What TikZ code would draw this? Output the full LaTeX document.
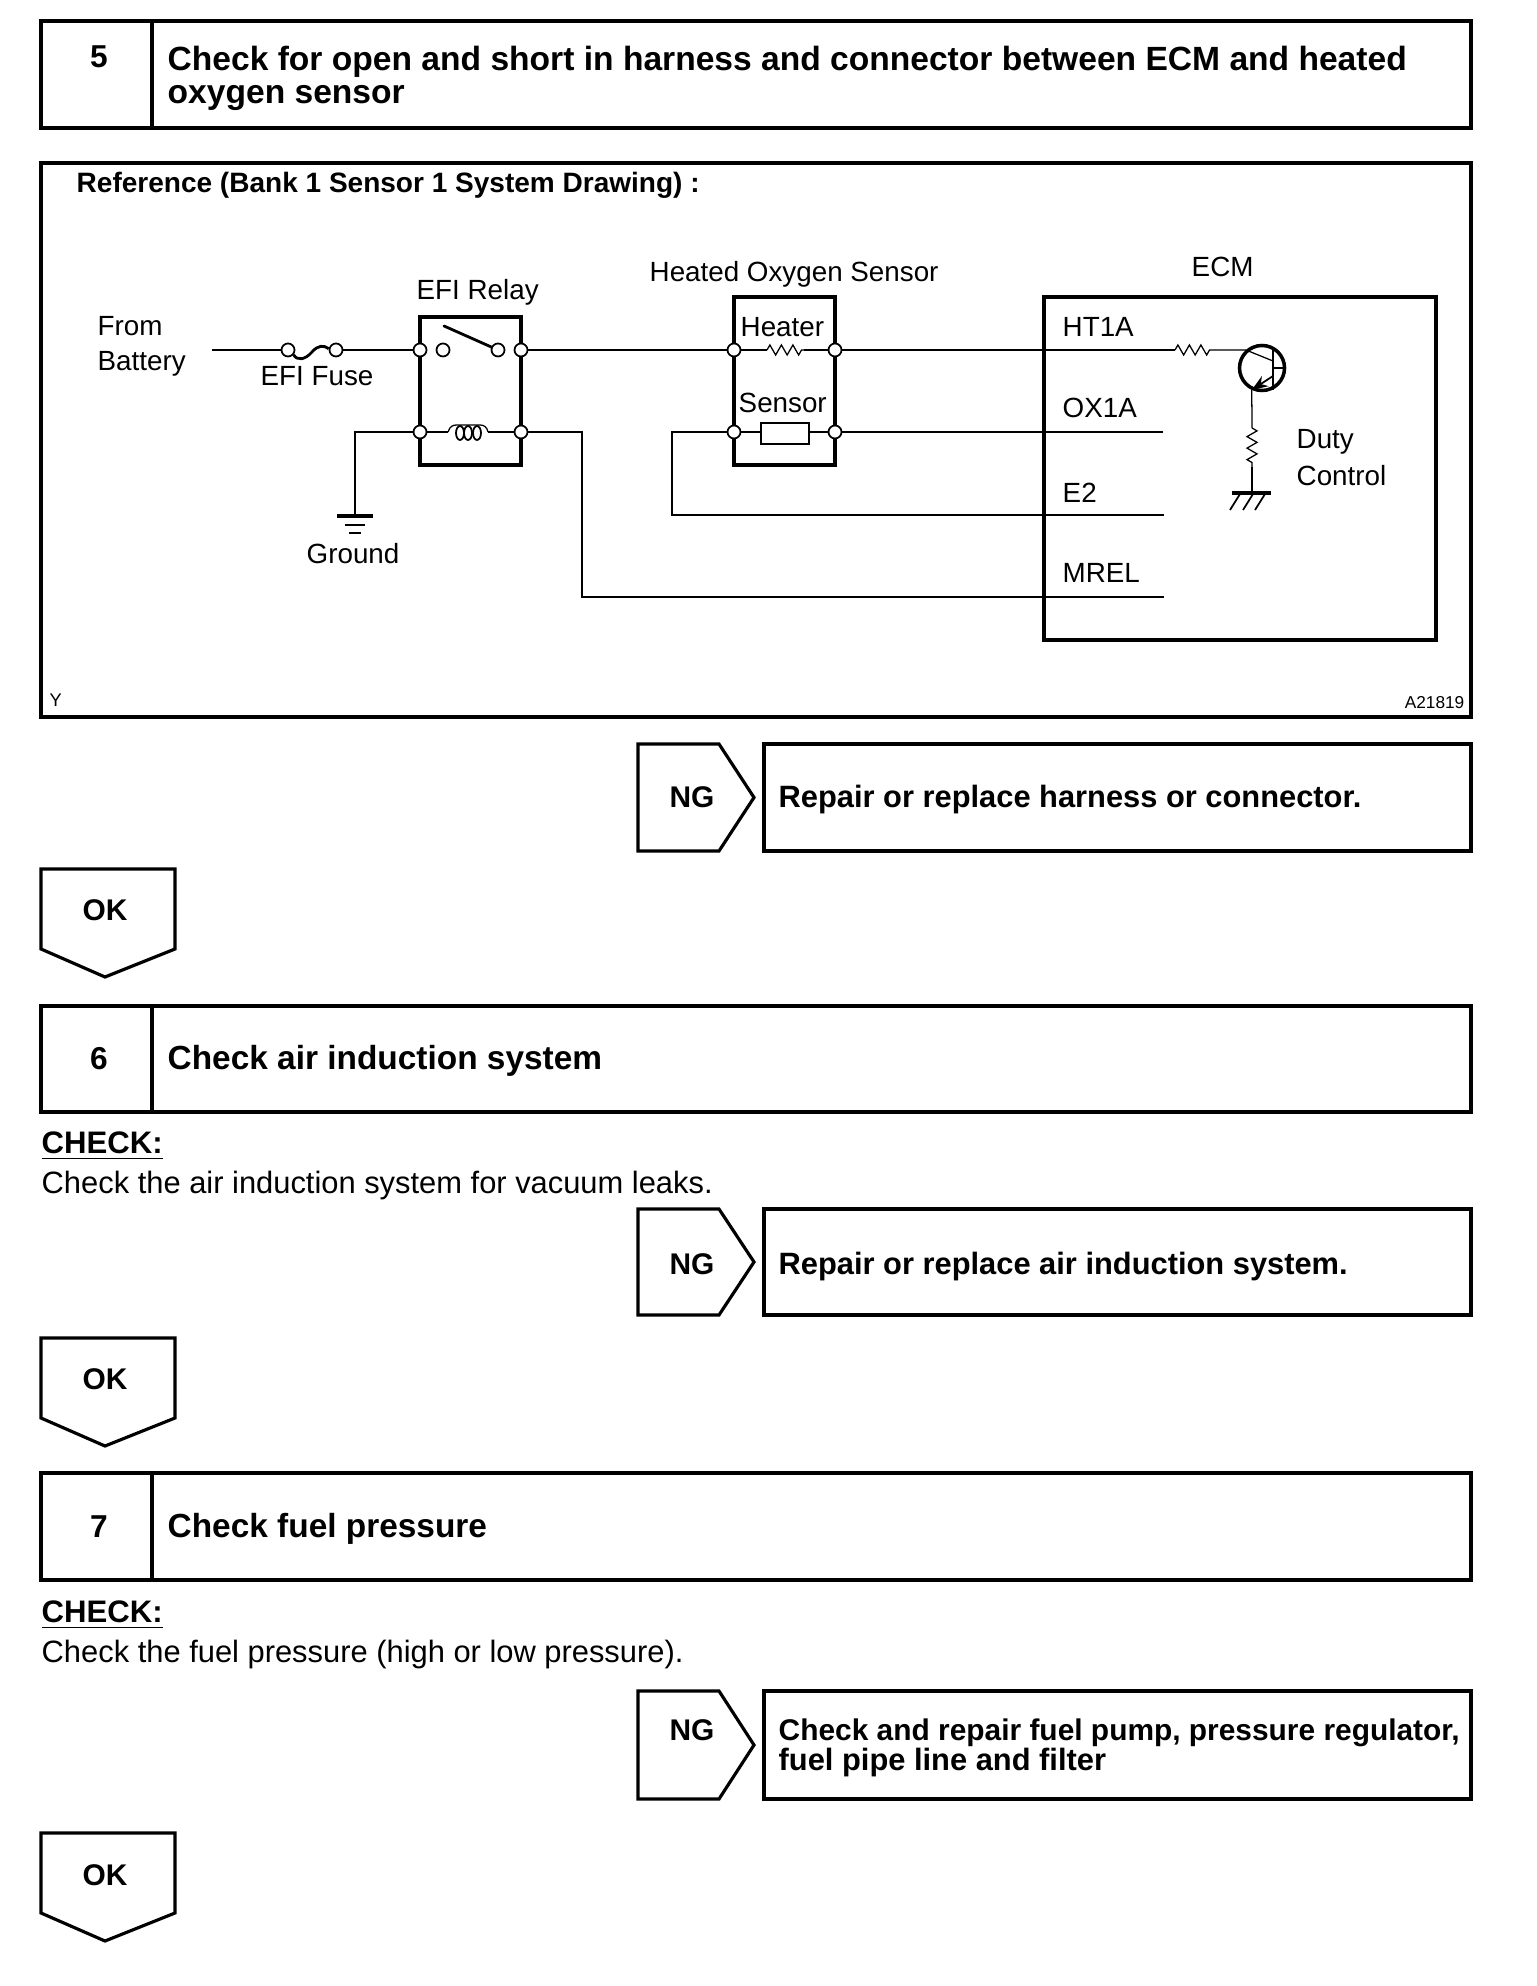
\documentclass[tikz,border=0pt]{standalone}
\usepackage{fontspec}
\setmainfont{Liberation Sans}
\usetikzlibrary{decorations.pathmorphing,arrows.meta}

\tikzset{
    heavy/.style={draw,line width=1.05pt,line join=miter},
    wire/.style={line width=0.36pt},
    term/.style={circle,draw,fill=white,line width=0.5pt,inner sep=0pt,minimum size=0.13cm},
    lbl/.style={inner sep=0pt,font=\fontsize{7.9}{9}\selectfont},
    bld/.style={inner sep=0pt,align=left,font=\fontsize{9.5}{9.4}\selectfont\bfseries},
    fix/.style={inner sep=0pt,align=left,font=\fontsize{8.77}{8.65}\selectfont\bfseries},
    note/.style={inner sep=0pt,font=\fontsize{8.78}{9}\selectfont},
    zig/.style={wire,decorate,decoration={zigzag,amplitude=0.05cm,segment length=0.115cm}},
}

\begin{document}
\begin{tikzpicture}[x=0.01cm,y=-0.01cm]
    \useasboundingbox (0,0) rectangle (1536,1986);
    \pgfmathsetmacro{\xmin}{41}      % bord gauche
    \pgfmathsetmacro{\xmax}{1471}    % bord droit
    \pgfmathsetmacro{\xdiv}{152}     % trait du numero
    \pgfmathsetmacro{\yhi}{350}      % ligne haute du schema
    \pgfmathsetmacro{\ylo}{432}      % ligne basse du schema

    % Bandeaux numerotes
    \foreach \ytop/\ybot in {21/128,1006/1112,1473/1580}{
        \draw[heavy] (\xmin,\ytop) rectangle (\xmax,\ybot);
        \draw[heavy] (\xdiv,\ytop) -- (\xdiv,\ybot);
    }
    \node[bld,font=\fontsize{9}{9.4}\selectfont\bfseries] (numFive) at (99,57) {5};
    \node[bld,anchor=north west,font=\fontsize{9.55}{9.4}\selectfont\bfseries] (headFive) at (167,45) {Check for open and short in harness and connector between ECM and heated\\oxygen sensor};
    \node[bld,font=\fontsize{9}{9.4}\selectfont\bfseries] (numSix) at (99,1059) {6};
    \node[bld,anchor=west] (headSix) at (167,1061) {Check air induction system};
    \node[bld,font=\fontsize{9}{9.4}\selectfont\bfseries] (numSeven) at (99,1527) {7};
    \node[bld,anchor=west] (headSeven) at (167,1529) {Check fuel pressure};

    % Cadre du schema
    \draw[heavy] (\xmin,163) rectangle (\xmax,717);
    \node[bld,anchor=west,font=\fontsize{7.97}{9}\selectfont\bfseries] (refTitle) at (76,185) {Reference (Bank 1 Sensor 1 System Drawing) :};
    \node[lbl,anchor=west,font=\fontsize{5.2}{6}\selectfont] (tagY) at (49,700) {Y};
    \node[lbl,anchor=east,font=\fontsize{4.9}{6}\selectfont] (tagNum) at (1465,703) {A21819};

    % Boitiers
    \draw[heavy] (420,317) rectangle (521,465);
    \draw[heavy] (734,297) rectangle (835,465);
    \draw[heavy] (1044,297) rectangle (1436,640);
    \draw[heavy,line width=0.75pt] (761,423) rectangle (809,444);

    % Bornes
    \coordinate (batt) at (212,\yhi);
    \node[term] (fuseA) at (288,\yhi) {};
    \node[term] (fuseB) at (336,\yhi) {};
    \node[term] (relayA) at (420,\yhi) {};
    \node[term] (relayB) at (443,\yhi) {};
    \node[term] (relayC) at (498,\yhi) {};
    \node[term] (relayD) at (521,\yhi) {};
    \node[term] (relayE) at (420,\ylo) {};
    \node[term] (relayF) at (521,\ylo) {};
    \node[term] (oxA) at (734,\yhi) {};
    \node[term] (oxB) at (835,\yhi) {};
    \node[term] (oxC) at (734,\ylo) {};
    \node[term] (oxD) at (835,\ylo) {};

    % Transistor
    \node[circle,draw,line width=1pt,minimum size=0.45cm,inner sep=0pt] (trans) at (1262,368) {};

    % Fils
    \coordinate (gndTop) at (355,516);
    \coordinate (mrelEnd) at (1164,597);
    \coordinate (e2End) at (1164,515);
    \coordinate (ox1End) at (1163,\ylo);
    \coordinate (heatA) at (767,\yhi);
    \coordinate (heatB) at (804,\yhi);
    \coordinate (htA) at (1175,\yhi);
    \coordinate (htB) at (1215,\yhi);
    \coordinate (coilA) at (448,\ylo);
    \coordinate (coilB) at (488,\ylo);
    \coordinate (elemL) at (761,\ylo);
    \coordinate (elemR) at (809,\ylo);
    \draw[wire] (batt) -- (fuseA);
    \draw[wire] (fuseB) -- (relayA);
    \draw[wire] (relayD) -- (oxA);
    \draw[wire] (oxA) -- (heatA);
    \draw[zig] (heatA) -- (heatB);
    \draw[wire] (heatB) -- (oxB);
    \draw[wire] (oxB) -- (htA);
    \draw[zig] (htA) -- (htB);
    \draw[wire] (htB) -- (trans.132);
    \draw[wire] (relayE) -- (coilA);
    \draw[wire] (coilB) -- (relayF);
    \draw[wire] (relayE) -| (gndTop);
    \draw[wire,line width=0.5pt] (relayF) -- (582,\ylo) -- (582,597) -- (mrelEnd);
    \draw[wire] (oxC) -- (elemL);
    \draw[wire,line width=0.5pt] (oxC) -- (672,\ylo) -- (672,515) -- (e2End);
    \draw[wire] (elemR) -- (oxD);
    \draw[wire] (oxD) -- (ox1End);

    % Fusible
    \draw[line width=0.8pt] (fuseA.-40) .. controls (297,361) and (305,360) .. (312,352) .. controls (318,345) and (324,345) .. (fuseB.170);
    % Relais
    \draw[line width=0.8pt,line cap=round] (444,326) -- (relayC);
    \draw[wire] (coilA) .. controls (450,426) and (453,425) .. (457,425) -- (480,425) .. controls (484,425) and (487,427) .. (coilB);
    \foreach \x in {460,468,477}{
        \draw[wire,line width=0.5pt] (\x,433) ellipse (4 and 7);
    }
    % Masse
    \draw[line width=1pt] (337,516) -- (373,516);
    \draw[wire] (345,525) -- (365,525);
    \draw[wire] (349,533) -- (361,533);

    % Interieur du transistor
    \coordinate (barTop) at (1273,347);
    \coordinate (barBot) at (1273,390);
    \coordinate (gndEcm) at (1252,493);
    \coordinate (rdA) at (1252,428);
    \coordinate (rdB) at (1252,467);
    \draw[line width=0.7pt] (barTop) -- (barBot);
    \draw[wire] (barTop |- trans) -- (trans.east);
    \draw[wire] (trans.132) -- (1273,361);
    \draw[wire,line width=0.5pt,-{Stealth[length=0.16cm,width=0.12cm]}] (1273,376) -- (trans.245);
    \draw[wire] (trans.245) -- (rdA);
    \draw[zig] (rdA) -- (rdB);
    \draw[wire] (rdB) -- (gndEcm);
    \draw[line width=1pt] (1232,493) -- (1271,493);
    \foreach \x in {1240,1253,1265}{
        \draw[wire,line width=0.5pt] (\x,494) -- (\x-10,510);
    }

    % Textes du schema
    \node[lbl,anchor=west] (fromTxt) at (97,326) {From};
    \node[lbl,anchor=west] (battTxt) at (97,364) {Battery};
    \node[lbl,anchor=west] (fuseTxt) at (260,376) {EFI Fuse};
    \node[lbl,anchor=west] (relayTxt) at (416,292) {EFI Relay};
    \node[lbl,anchor=west] (sensTxt) at (649,274) {Heated Oxygen Sensor};
    \node[lbl,anchor=west] (ecmTxt) at (1191,267) {ECM};
    \node[lbl,anchor=west] (heaterTxt) at (740,327) {Heater};
    \node[lbl,anchor=west] (sensorTxt) at (738,403) {Sensor};
    \node[lbl,anchor=west] (htTxt) at (1062,327) {HT1A};
    \node[lbl,anchor=west] (oxTxt) at (1062,408) {OX1A};
    \node[lbl,anchor=west] (eTxt) at (1062,493) {E2};
    \node[lbl,anchor=west] (mrelTxt) at (1062,573) {MREL};
    \node[lbl,anchor=west] (dutyTxt) at (1296,442) {Duty};
    \node[lbl,anchor=west] (ctrlTxt) at (1296,476) {Control};
    \node[lbl,anchor=west] (gndTxt) at (306,554) {Ground};

    % Sorties NG
    \foreach \y/\h in {744/107,1209/106,1691/108}{
        \draw[heavy,line width=0.9pt] (638,\y) -- (719,\y) -- (754,\y+\h/2) -- (719,\y+\h) -- (638,\y+\h) -- cycle;
        \draw[heavy,line width=0.9pt] (764,\y) rectangle (\xmax,\y+\h);
    }
    \node[fix,font=\fontsize{8.5}{9}\selectfont\bfseries] (ngA) at (692,797) {NG};
    \node[fix,font=\fontsize{8.5}{9}\selectfont\bfseries] (ngB) at (692,1264) {NG};
    \node[fix,font=\fontsize{8.5}{9}\selectfont\bfseries] (ngC) at (692,1730) {NG};
    \node[fix,anchor=west] (fixA) at (778,800) {Repair or replace harness or connector.};
    \node[fix,anchor=west] (fixB) at (778,1267) {Repair or replace air induction system.};
    \node[fix,anchor=west] (fixC) at (778,1748) {\fontsize{8.5}{8.65}\selectfont Check and repair fuel pump, pressure regulator,\\fuel pipe line and filter};

    % Sorties OK
    \foreach \y in {869,1338,1833}{
        \draw[heavy,line width=0.9pt] (\xmin,\y) -- (175,\y) -- (175,\y+80) -- (105,\y+108) -- (\xmin,\y+80) -- cycle;
    }
    \node[fix,font=\fontsize{8.5}{9}\selectfont\bfseries] (okA) at (105,910) {OK};
    \node[fix,font=\fontsize{8.5}{9}\selectfont\bfseries] (okB) at (105,1379) {OK};
    \node[fix,font=\fontsize{8.5}{9}\selectfont\bfseries] (okC) at (105,1875) {OK};

    % Consignes
    \node[note,anchor=west,font=\fontsize{8.85}{9}\selectfont\bfseries] (chkA) at (41,1146) {\underline{CHECK:}};
    \node[note,anchor=west] (chkAtxt) at (41,1186) {Check the air induction system for vacuum leaks.};
    \node[note,anchor=west,font=\fontsize{8.85}{9}\selectfont\bfseries] (chkB) at (41,1615) {\underline{CHECK:}};
    \node[note,anchor=west] (chkBtxt) at (41,1654) {Check the fuel pressure (high or low pressure).};
\end{tikzpicture}
\end{document}
